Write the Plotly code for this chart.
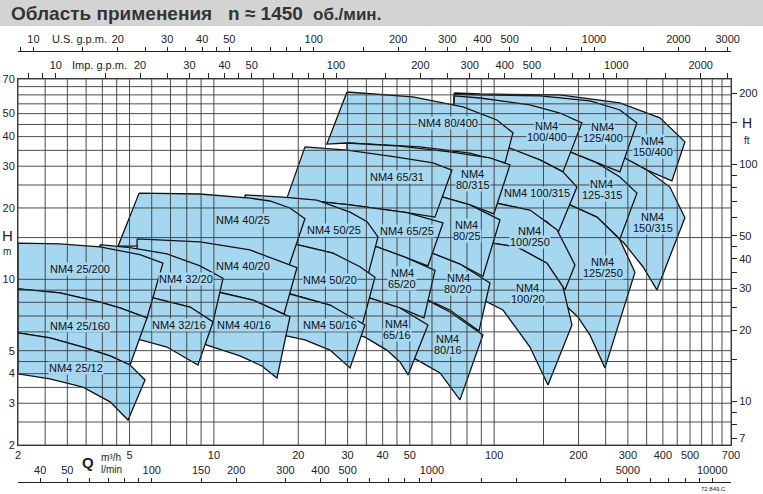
import numpy as np
import plotly.graph_objects as go

# ---------------- axis data ----------------
Q_RANGE = [2, 700]      # m3/h
H_RANGE = [2, 70]       # m

US_GPM_PER_M3H = 4.40287
IMP_GPM_PER_M3H = 3.66619
LPM_PER_M3H = 16.6667
FT_PER_M = 3.28084

GRID_Q = [2, 2.5, 3, 3.5, 4, 4.5, 5, 6, 7, 8, 9, 10, 15, 20, 25, 30, 35, 40, 45, 50,
          60, 70, 80, 90, 100, 150, 200, 250, 300, 350, 400, 450, 500, 550, 600, 650, 700]
GRID_H = [2, 2.5, 3, 3.5, 4, 4.5, 5, 6, 7, 8, 9, 10, 15, 20, 25, 30, 35, 40, 45, 50,
          55, 60, 65, 70]

Q_TICKS = [2, 5, 10, 20, 30, 40, 50, 100, 200, 300, 400, 500, 700]
H_TICKS = [2, 3, 4, 5, 10, 20, 30, 40, 50, 70]

US_TICKS = [9, 10, 15, 20, 25, 30, 35, 40, 45, 50, 60, 70, 80, 90, 100, 150, 200, 250, 300,
            350, 400, 500, 600, 700, 800, 900, 1000, 1500, 2000, 2500, 3000]
US_LABELED = [10, 20, 30, 40, 50, 100, 200, 300, 400, 500, 1000, 2000, 3000]
IMP_TICKS = [8, 9, 10, 15, 20, 25, 30, 35, 40, 45, 50, 60, 70, 80, 90, 100, 150, 200, 250,
             300, 350, 400, 500, 600, 700, 800, 900, 1000, 1500, 2000, 2500]
IMP_LABELED = [10, 20, 30, 40, 50, 100, 200, 300, 400, 500, 1000, 2000]
LPM_TICKS = [40, 50, 60, 70, 80, 90, 100, 150, 200, 300, 400, 500, 600, 700, 800, 900,
             1000, 1500, 2000, 3000, 4000, 5000, 6000, 7000, 8000, 9000, 10000]
LPM_LABELED = [40, 50, 100, 150, 200, 300, 400, 500, 1000, 5000, 10000]
FT_TICKS = [7, 8, 9, 10, 15, 20, 25, 30, 35, 40, 45, 50, 60, 70, 80, 90, 100, 150, 200]
FT_LABELED = [7, 10, 20, 30, 40, 50, 100, 200]

# ---------------- pump regions: (Q m3/h, H m), top & bottom curves, left -> right ----------------
NM4_150_400_TOP = [(72.0, 61.1), (89.0, 60.5), (171.7, 60.0), (281.0, 55.5), (390.4, 48.0), (479.4, 38.0)]
NM4_150_400_BOT = [(72.0, 36.2), (145.7, 35.1), (238.4, 33.5), (288.1, 32.8), (350.8, 28.9), (430.8, 26.0)]
NM4_150_315_TOP = [(72.0, 36.2), (145.7, 35.1), (238.4, 33.5), (288.1, 32.8), (350.8, 28.9), (423.8, 24.5), (479.4, 18.2)]
NM4_150_315_BOT = [(72.0, 21.0), (145.7, 21.0), (248.5, 15.8), (288.1, 14.4), (339.5, 11.3), (380.8, 9.02)]

NM4_125_400_TOP = [(72.0, 60.5), (89.0, 60.0), (145.7, 59.4), (219.7, 56.6), (281.0, 51.8), (323.1, 45.7)]
NM4_125_400_BOT = [(72.0, 36.2), (145.7, 35.1), (186.4, 34.5), (232.7, 31.0), (281.0, 28.4)]
NM4_125_315_TOP = [(72.0, 36.2), (145.7, 35.1), (186.4, 34.5), (232.7, 31.0), (281.0, 27.0), (323.1, 23.1)]
NM4_125_315_BOT = [(72.0, 21.2), (145.7, 21.0), (186.4, 20.6), (232.7, 18.3), (281.0, 14.8)]
NM4_125_250_TOP = [(72.0, 21.2), (145.7, 21.0), (186.4, 20.6), (232.7, 18.3), (281.0, 14.7), (317.9, 10.7)]
NM4_125_250_BOT = [(72.0, 14.2), (158.1, 8.59), (176.0, 7.95), (199.0, 6.94), (219.7, 5.82), (248.5, 4.23)]

NM4_100_400_TOP = [(72.0, 59.4), (89.0, 58.2), (134.2, 54.4), (171.7, 50.3), (205.6, 45.7)]
NM4_100_400_BOT = [(72.0, 36.2), (89.0, 36.2), (113.9, 35.1), (145.7, 31.9), (176.0, 28.4)]
NM4_100_315_TOP = [(72.0, 36.2), (89.0, 36.2), (113.9, 35.8), (145.7, 31.9), (176.0, 28.4), (197.4, 24.5)]
NM4_100_315_BOT = [(72.0, 21.2), (89.0, 21.2), (100.6, 21.0), (123.6, 20.0), (154.3, 17.5), (168.9, 15.7)]
NM4_100_250_TOP = [(72.0, 21.2), (89.0, 21.2), (100.6, 21.0), (134.2, 19.6), (167.5, 16.2), (194.2, 11.5)]
NM4_100_250_BOT = [(72.0, 14.2), (98.2, 14.2), (120.6, 13.7), (154.3, 11.7), (178.9, 9.02)]
NM4_100_20_TOP = [(72.0, 14.2), (98.2, 14.2), (120.6, 13.7), (154.3, 11.7), (176.0, 9.28), (189.5, 6.42)]
NM4_100_20_BOT = [(72.0, 8.34), (82.0, 8.34), (91.2, 8.18), (107.5, 7.42), (134.2, 5.18), (155.6, 3.58)]

NM4_80_400_TOP = [(29.85, 61.7), (51.3, 58.8), (77.4, 53.4), (102.3, 47.0), (116.7, 41.5)]
NM4_80_400_BOT = [(25.3, 37.2), (29.85, 37.6), (54.4, 36.2), (82.0, 34.1), (109.3, 31.0)]
NM4_80_315_TOP = [(29.85, 37.6), (46.1, 36.5), (69.5, 34.5), (96.6, 32.5), (113.9, 30.4)]
NM4_80_315_BOT = [(29.85, 23.4), (39.1, 23.4), (65.7, 22.2), (82.0, 20.6), (99.8, 18.9)]
NM4_80_25_TOP = [(29.85, 23.4), (39.1, 23.4), (65.7, 22.2), (82.0, 20.6), (104.9, 17.8)]
NM4_80_25_BOT = [(29.85, 13.3), (46.1, 13.3), (60.0, 12.9), (75.5, 11.6), (91.2, 10.3)]
NM4_80_20_TOP = [(29.85, 13.3), (46.1, 13.3), (60.0, 12.9), (75.5, 11.6), (96.6, 9.65)]
NM4_80_20_BOT = [(29.85, 8.76), (46.1, 8.76), (53.05, 8.59), (69.5, 7.42), (88.3, 6.05)]
NM4_80_16_TOP = [(29.85, 8.76), (46.1, 8.76), (53.05, 8.59), (69.5, 7.28), (91.2, 5.82)]
NM4_80_16_BOT = [(34.6, 5.71), (41.4, 5.03), (46.1, 4.94), (53.05, 4.57), (64.1, 4.03), (75.5, 3.10)]

NM4_65_31_TOP = [(21.13, 36.2), (29.85, 35.1), (45.0, 32.8), (60.5, 31.0), (70.7, 28.9)]
NM4_65_31_BOT = [(18.23, 22.0), (30.6, 20.6), (48.85, 19.1), (61.5, 18.3)]
NM4_65_25_TOP = [(18.23, 22.0), (30.6, 20.6), (48.85, 19.1), (65.7, 17.3)]
NM4_65_25_BOT = [(18.23, 14.0), (28.2, 14.2), (38.2, 13.7), (48.1, 12.4), (58.05, 11.4)]
NM4_65_20_TOP = [(28.2, 14.4), (38.2, 13.7), (48.1, 12.4), (61.5, 10.9)]
NM4_65_20_BOT = [(28.2, 8.67), (35.2, 8.42), (46.1, 7.57), (56.2, 6.87)]
NM4_65_16_TOP = [(28.2, 8.67), (35.2, 8.42), (46.1, 7.57), (58.05, 6.42)]
NM4_65_16_BOT = [(28.2, 6.11), (34.6, 5.71), (41.4, 5.03), (46.1, 4.48), (49.3, 3.95)]

NM4_50_25_TOP = [(12.91, 22.7), (17.64, 22.2), (23.3, 21.6), (30.6, 19.2), (35.2, 17.5), (38.5, 15.1)]
NM4_50_25_BOT = [(12.91, 14.2), (19.8, 14.0), (26.6, 12.9), (35.46, 10.4)]
NM4_50_20_TOP = [(14.6, 14.2), (19.8, 14.0), (26.6, 12.9), (33.2, 11.3), (37.55, 10.2)]
NM4_50_20_BOT = [(14.6, 8.84), (18.7, 8.67), (25.95, 7.79), (33.76, 6.36)]
NM4_50_16_TOP = [(14.6, 8.84), (18.7, 8.67), (25.95, 7.79), (34.6, 6.42)]
NM4_50_16_BOT = [(14.6, 6.0), (17.64, 5.82), (21.13, 5.55), (25.95, 5.03), (30.6, 4.23)]

NM4_40_25_TOP = [(5.41, 23.1), (8.92, 22.9), (13.45, 22.0), (15.85, 21.4), (18.68, 20.0), (21.13, 18.0)]
NM4_40_25_BOT = [(4.55, 13.8), (8.92, 13.8), (13.45, 13.0), (18.53, 11.4)]
NM4_40_20_TOP = [(5.32, 14.8), (8.92, 14.4), (13.45, 13.3), (19.79, 11.2)]
NM4_40_20_BOT = [(5.32, 9.02), (10.34, 8.84), (13.79, 8.18), (17.79, 7.14)]
NM4_40_16_TOP = [(8.92, 9.02), (10.34, 8.84), (13.79, 8.18), (18.68, 6.94)]
NM4_40_16_BOT = [(8.92, 5.55), (9.45, 5.28), (12.39, 4.75), (14.84, 4.31), (16.79, 3.83)]

NM4_32_20_TOP = [(3.92, 14.0), (5.02, 13.6), (6.80, 12.8), (8.92, 11.4), (10.78, 10.1)]
NM4_32_20_BOT = [(3.92, 8.84), (5.92, 8.42), (8.22, 7.64), (9.93, 6.61)]
NM4_32_16_TOP = [(3.92, 8.84), (5.92, 8.42), (8.22, 7.64), (9.93, 6.61)]
NM4_32_16_BOT = [(4.09, 5.94), (5.36, 5.60), (6.80, 5.18), (8.77, 4.35)]

NM4_25_200_TOP = [(2.0, 14.2), (2.82, 14.1), (3.92, 13.7), (5.45, 12.7), (6.58, 11.7)]
NM4_25_200_BOT = [(2.0, 9.11), (2.82, 8.76), (3.92, 8.02), (4.62, 7.57), (5.77, 6.87)]
NM4_25_160_TOP = [(2.0, 9.11), (2.82, 8.76), (3.92, 8.02), (4.62, 7.57), (5.77, 6.87)]
NM4_25_160_BOT = [(2.0, 5.94), (2.60, 5.66), (3.41, 5.18), (4.26, 4.75), (5.02, 4.35)]
NM4_25_12_TOP = [(2.0, 5.94), (2.60, 5.66), (3.41, 5.18), (4.26, 4.75), (5.02, 4.35), (5.68, 3.76)]
NM4_25_12_BOT = [(2.0, 3.99), (2.60, 3.80), (3.41, 3.51), (4.26, 3.04), (4.94, 2.55)]

DRAW_ORDER = [
    (NM4_150_400_TOP, NM4_150_400_BOT), (NM4_150_315_TOP, NM4_150_315_BOT),
    (NM4_125_400_TOP, NM4_125_400_BOT), (NM4_125_315_TOP, NM4_125_315_BOT), (NM4_125_250_TOP, NM4_125_250_BOT),
    (NM4_100_400_TOP, NM4_100_400_BOT), (NM4_100_315_TOP, NM4_100_315_BOT),
    (NM4_100_250_TOP, NM4_100_250_BOT), (NM4_100_20_TOP, NM4_100_20_BOT),
    (NM4_80_400_TOP, NM4_80_400_BOT), (NM4_80_315_TOP, NM4_80_315_BOT), (NM4_80_25_TOP, NM4_80_25_BOT),
    (NM4_80_20_TOP, NM4_80_20_BOT), (NM4_80_16_TOP, NM4_80_16_BOT),
    (NM4_65_31_TOP, NM4_65_31_BOT), (NM4_65_25_TOP, NM4_65_25_BOT), (NM4_65_20_TOP, NM4_65_20_BOT),
    (NM4_65_16_TOP, NM4_65_16_BOT),
    (NM4_50_25_TOP, NM4_50_25_BOT), (NM4_50_20_TOP, NM4_50_20_BOT), (NM4_50_16_TOP, NM4_50_16_BOT),
    (NM4_40_25_TOP, NM4_40_25_BOT), (NM4_40_20_TOP, NM4_40_20_BOT), (NM4_40_16_TOP, NM4_40_16_BOT),
    (NM4_32_20_TOP, NM4_32_20_BOT), (NM4_32_16_TOP, NM4_32_16_BOT),
    (NM4_25_200_TOP, NM4_25_200_BOT), (NM4_25_160_TOP, NM4_25_160_BOT), (NM4_25_12_TOP, NM4_25_12_BOT),
]

LABEL_TEXT = ["NM4 25/200", "NM4 25/160", "NM4 25/12", "NM4 32/20", "NM4 32/16",
              "NM4 40/25", "NM4 40/20", "NM4 40/16", "NM4 50/25", "NM4 50/20", "NM4 50/16",
              "NM4 65/31", "NM4 65/25", "NM4\n65/20", "NM4\n65/16",
              "NM4 80/400", "NM4\n80/315", "NM4\n80/25", "NM4\n80/20", "NM4\n80/16",
              "NM4\n100/400", "NM4 100/315", "NM4\n100/250", "NM4\n100/20",
              "NM4\n125/400", "NM4\n125-315", "NM4\n125/250", "NM4\n150/400", "NM4\n150/315"]
LABEL_Q = [3.33, 3.33, 3.22, 7.95, 7.51,
           12.7, 12.7, 12.8, 26.8, 25.95, 25.95,
           45.0, 48.85, 46.9, 45.0,
           68.4, 84.0, 80.0, 74.3, 68.4,
           154.3, 142.1, 134.2, 132.0,
           244.4, 242.4, 244.4, 368.5, 368.5]
LABEL_H = [11.06, 6.36, 4.23, 10.03, 6.42,
           17.8, 11.4, 6.42, 16.2, 9.94, 6.42,
           27.0, 16.0, 10.08, 6.14,
           45.7, 26.4, 16.1, 9.56, 5.31,
           41.9, 23.1, 15.2, 8.71,
           41.7, 23.9, 11.2, 36.3, 17.4]

# ---------------- styling ----------------
W, H = 763, 494
FONT = "Liberation Sans, Arial, sans-serif"
FILL = "#a6d7f0"
EDGE = "#111111"
GRID = "#3a3a3a"
TXT = "#222222"
XD = [18 / W, 731 / W]
YD = [(H - 445) / H, (H - 79) / H]
lg = np.log10

fig = go.Figure()

for top, bot in DRAW_ORDER:
    pts = list(top) + list(bot)[::-1] + [top[0]]
    fig.add_trace(go.Scatter(
        x=[p[0] for p in pts], y=[p[1] for p in pts], mode="lines", fill="toself",
        fillcolor=FILL, line=dict(color=EDGE, width=1.3), hoverinfo="skip", showlegend=False))

# grid drawn above the filled areas
gx, gy = [], []
for q in GRID_Q:
    gx += [q, q, None]
    gy += [H_RANGE[0], H_RANGE[1], None]
for h in GRID_H:
    gx += [Q_RANGE[0], Q_RANGE[1], None]
    gy += [h, h, None]
fig.add_trace(go.Scatter(x=gx, y=gy, mode="lines", line=dict(color=GRID, width=0.9),
                         hoverinfo="skip", showlegend=False))

# carrier traces for secondary scales
fig.add_trace(go.Scatter(x=[Q_RANGE[0] * US_GPM_PER_M3H, Q_RANGE[1] * US_GPM_PER_M3H], y=[2, 2],
                         xaxis="x2", yaxis="y", mode="markers", marker=dict(opacity=0), hoverinfo="skip", showlegend=False))
fig.add_trace(go.Scatter(x=[Q_RANGE[0] * IMP_GPM_PER_M3H, Q_RANGE[1] * IMP_GPM_PER_M3H], y=[2, 2],
                         xaxis="x3", yaxis="y", mode="markers", marker=dict(opacity=0), hoverinfo="skip", showlegend=False))
fig.add_trace(go.Scatter(x=[Q_RANGE[0] * LPM_PER_M3H, Q_RANGE[1] * LPM_PER_M3H], y=[2, 2],
                         xaxis="x4", yaxis="y", mode="markers", marker=dict(opacity=0), hoverinfo="skip", showlegend=False))
fig.add_trace(go.Scatter(x=[2, 2], y=[H_RANGE[0] * FT_PER_M, H_RANGE[1] * FT_PER_M],
                         xaxis="x", yaxis="y2", mode="markers", marker=dict(opacity=0), hoverinfo="skip", showlegend=False))


def labels(ticks, labeled):
    return [str(t) if t in labeled else "" for t in ticks]


common = dict(type="log", showgrid=False, zeroline=False, automargin=False,
              tickfont=dict(family=FONT, size=11, color=TXT), tickmode="array")

fig.update_layout(
    template="none",
    width=W, height=H, margin=dict(l=0, r=0, t=0, b=0, autoexpand=False),
    paper_bgcolor="white", plot_bgcolor="white", showlegend=False,
    font=dict(family=FONT, size=11, color=TXT),
    xaxis=dict(**common, domain=XD, anchor="y", range=[lg(Q_RANGE[0]), lg(Q_RANGE[1])],
               tickvals=Q_TICKS, ticktext=[str(t) for t in Q_TICKS], ticks="",
               showline=True, mirror=True, linecolor=GRID, linewidth=1),
    yaxis=dict(**common, domain=YD, anchor="x", range=[lg(H_RANGE[0]), lg(H_RANGE[1])],
               tickvals=H_TICKS, ticktext=[str(t) for t in H_TICKS], ticks="",
               showline=True, mirror=True, linecolor=GRID, linewidth=1),
    yaxis2=dict(**common, overlaying="y", side="right", anchor="x",
                range=[lg(H_RANGE[0] * FT_PER_M), lg(H_RANGE[1] * FT_PER_M)],
                tickvals=FT_TICKS, ticktext=labels(FT_TICKS, FT_LABELED),
                ticks="outside", ticklen=5, tickcolor=TXT, tickwidth=1, showline=False),
    xaxis2=dict(**common, overlaying="x", side="top", anchor="free", position=(H - 51) / H,
                range=[lg(Q_RANGE[0] * US_GPM_PER_M3H), lg(Q_RANGE[1] * US_GPM_PER_M3H)],
                tickvals=US_TICKS, ticktext=labels(US_TICKS, US_LABELED),
                ticks="outside", ticklen=4, tickcolor=TXT, tickwidth=1,
                showline=True, linecolor=TXT, linewidth=1),
    xaxis3=dict(**common, overlaying="x", side="top", anchor="y",
                range=[lg(Q_RANGE[0] * IMP_GPM_PER_M3H), lg(Q_RANGE[1] * IMP_GPM_PER_M3H)],
                tickvals=IMP_TICKS, ticktext=labels(IMP_TICKS, IMP_LABELED),
                ticks="outside", ticklen=5, tickcolor=TXT, tickwidth=1, showline=False),
    xaxis4=dict(**common, overlaying="x", side="top", anchor="free", position=(H - 482) / H,
                range=[lg(Q_RANGE[0] * LPM_PER_M3H), lg(Q_RANGE[1] * LPM_PER_M3H)],
                tickvals=LPM_TICKS, ticktext=labels(LPM_TICKS, LPM_LABELED),
                ticks="outside", ticklen=4, tickcolor=TXT, tickwidth=1,
                showline=True, linecolor=TXT, linewidth=1),
)

# title band
fig.add_shape(type="rect", xref="paper", yref="paper", x0=0, x1=1, y0=(H - 26) / H, y1=1,
              fillcolor="#d3d3d3", line=dict(width=0), layer="below")

ann = []
def pa(x, y, text, size, bold=False, xanchor="left", color="#333333"):
    ann.append(dict(xref="paper", yref="paper", x=x / W, y=(H - y) / H, text=(f"<b>{text}</b>" if bold else text),
                    showarrow=False, xanchor=xanchor, yanchor="middle",
                    font=dict(family=FONT, size=size, color=color)))

pa(9, 13.5, "Область применения", 19, True)
pa(226, 13.5, "n ≈ 1450", 19, True)
pa(311, 14, "об./мин.", 17, True)
pa(79, 39, "U.S. g.p.m.", 11, False, "center", TXT)
pa(99, 65, "Imp. g.p.m.", 11, False, "center", TXT)
pa(7, 236, "H", 15, False, "center", TXT)
pa(7, 251, "m", 10, False, "center", TXT)
pa(747, 123, "H", 14, False, "center", TXT)
pa(747, 140, "ft", 10, False, "center", TXT)
pa(88, 462, "Q", 15, True, "center", TXT)
pa(99, 457, "m³/h", 10, False, "left", TXT)
pa(99, 469, "l/min", 10, False, "left", TXT)
pa(728, 489, "72.849.C", 6, False, "right", TXT)

for t, q, h in zip(LABEL_TEXT, LABEL_Q, LABEL_H):
    lines = t.split("\n")
    n = len(lines)
    for i, line in enumerate(lines):
        ann.append(dict(xref="x", yref="y", x=lg(q), y=lg(h), text=line, showarrow=False,
                        xanchor="center", yanchor="middle", yshift=(n - 1) * 5.5 - i * 11,
                        font=dict(family=FONT, size=11, color="#111111"),
                        bgcolor=FILL, borderpad=0))

fig.update_layout(annotations=ann)
fig.write_html("out.html", config={"displayModeBar": False},
               post_script="document.body.style.margin='0px';document.body.style.padding='0px';")
